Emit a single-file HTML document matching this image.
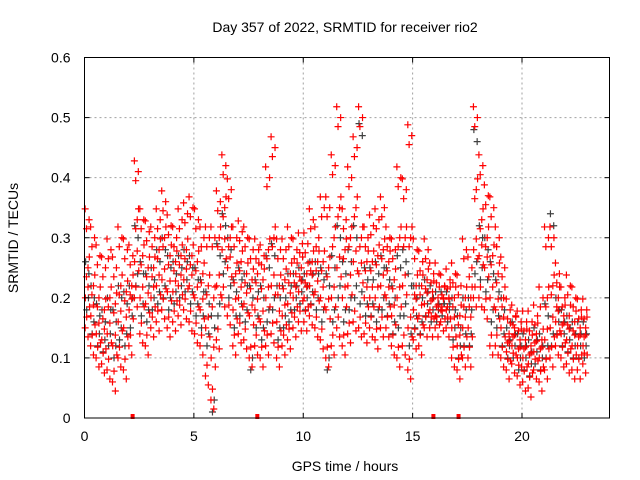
<!DOCTYPE html>
<html><head><meta charset="utf-8"><style>
body{margin:0;background:#fff;}
svg{display:block;font-family:"Liberation Sans",sans-serif;}
</style></head><body>
<svg id="chart" width="640" height="480" viewBox="0 0 640 480">
<rect width="640" height="480" fill="#fff"/>
<text x="345" y="32" font-size="14" text-anchor="middle">Day 357 of 2022, SRMTID for receiver rio2</text>
<g id="grid"></g>
<g id="black"></g>
<g id="red"></g>
<rect x="84.5" y="57.5" width="525" height="360.5" fill="none" stroke="#000" stroke-width="1"/>
<g id="ticks"></g>
<text x="345" y="471" font-size="14" text-anchor="middle">GPS time / hours</text>
<text transform="translate(18,238) rotate(-90)" font-size="14" text-anchor="middle">SRMTID / TECUs</text>
</svg>
<script>
const xTicks=[0,5,10,15,20];
const yTicks=[0,0.1,0.2,0.3,0.4,0.5,0.6];
const yTickLabels=["0","0.1","0.2","0.3","0.4","0.5","0.6"];
const binStart=0, binWidth=0.25;
const redVals=[
[.15,.2,.25,.33],[.12,.17,.22,.3],[.1,.14,.2,.27],[.09,.13,.18,.25],[.08,.14,.2,.28],[.06,.12,.19,.25],[.1,.16,.22,.3],[.08,.15,.21,.28],
[.12,.18,.22,.27],[.2,.26,.33,.41],[.14,.2,.27,.33],[.12,.19,.25,.31],[.15,.2,.25,.3],[.16,.22,.28,.33],[.18,.23,.3,.36],[.15,.21,.27,.32],
[.16,.21,.26,.3],[.17,.22,.27,.33],[.18,.23,.28,.34],[.16,.22,.27,.35],[.14,.2,.26,.33],[.12,.18,.24,.3],[.07,.15,.22,.3],[.03,.1,.2,.3],
[.13,.22,.3,.36],[.2,.28,.35,.42],[.17,.25,.3,.38],[.12,.18,.24,.3],[.14,.2,.26,.31],[.13,.19,.24,.3],[.1,.17,.23,.28],[.12,.18,.24,.28],
[.1,.16,.23,.27],[.12,.2,.28,.4],[.14,.22,.3,.45],[.1,.16,.22,.28],[.12,.17,.23,.28],[.13,.19,.24,.3],[.15,.2,.24,.28],[.16,.21,.25,.29],
[.16,.2,.24,.29],[.17,.22,.26,.33],[.15,.21,.26,.3],[.13,.2,.26,.35],[.1,.18,.25,.35],[.12,.2,.3,.42],[.15,.25,.35,.5],[.12,.2,.28,.33],
[.14,.22,.3,.4],[.16,.26,.35,.45],[.15,.24,.3,.5],[.14,.2,.26,.3],[.15,.2,.26,.32],[.13,.2,.27,.33],[.15,.22,.28,.35],[.15,.2,.26,.3],
[.12,.17,.23,.28],[.1,.2,.3,.4],[.12,.22,.3,.38],[.08,.15,.3,.47],[.13,.18,.22,.28],[.12,.17,.22,.26],[.15,.19,.23,.28],[.15,.18,.21,.24],
[.15,.17,.2,.24],[.16,.18,.2,.22],[.15,.18,.2,.23],[.1,.15,.2,.24],[.08,.12,.17,.22],[.1,.15,.2,.28],[.1,.15,.2,.25],[.2,.28,.38,.5],
[.2,.27,.33,.42],[.18,.25,.3,.37],[.12,.2,.27,.35],[.12,.18,.24,.3],[.1,.15,.2,.25],[.08,.11,.14,.18],[.09,.12,.15,.17],[.07,.1,.13,.16],
[.06,.1,.13,.16],[.05,.09,.12,.16],[.08,.11,.14,.17],[.06,.1,.13,.2],[.08,.13,.2,.3],[.1,.15,.22,.3],[.12,.16,.2,.24],[.1,.14,.17,.2],
[.09,.13,.17,.22],[.08,.12,.16,.2],[.08,.12,.15,.18],[.09,.12,.15,.18]];
const blackVals=[
[.18,.24],[.14,.2],[.12,.17],[.11,.16],[.12,.18],[.1,.16],[.13,.2],[.12,.19],
[.15,.2],[.22,.3],[.17,.24],[.16,.22],[.18,.23],[.19,.26],[.2,.28],[.18,.25],
[.19,.24],[.2,.25],[.21,.26],[.19,.25],[.17,.23],[.15,.21],[.12,.19],[.01,.15],
[.17,.27],[.24,.32],[.2,.28],[.15,.21],[.17,.23],[.16,.22],[.08,.2],[.15,.21],
[.13,.2],[.16,.25],[.18,.27],[.13,.2],[.15,.2],[.16,.22],[.18,.22],[.19,.23],
[.18,.22],[.19,.24],[.18,.24],[.16,.23],[.08,.22],[.16,.25],[.2,.3],[.16,.24],
[.18,.26],[.2,.3],[.19,.47],[.17,.23],[.17,.23],[.16,.24],[.18,.25],[.17,.23],
[.14,.2],[.15,.25],[.17,.26],[.12,.22],[.15,.2],[.14,.2],[.17,.21],[.16,.2],
[.16,.19],[.17,.19],[.16,.19],[.13,.18],[.1,.15],[.12,.18],[.12,.18],[.24,.46],
[.23,.3],[.21,.28],[.16,.24],[.15,.21],[.12,.18],[.1,.13],[.1,.14],[.08,.12],
[.08,.12],[.07,.11],[.09,.13],[.08,.12],[.1,.17],[.12,.32],[.14,.18],[.12,.16],
[.11,.15],[.1,.14],[.1,.14],[.1,.14]];
const zeroMarks=[2.2,7.9,15.95,17.1];
const NS="http://www.w3.org/2000/svg";
const X0=84.5,X1=609.5,Y0=418,Y1=57.5,XMAX=24,YMAX=0.6;
function sx(v){return X0+(X1-X0)*v/XMAX;}
function sy(v){return Y0-(Y0-Y1)*v/YMAX;}
function mk(tag,attrs,parent){const e=document.createElementNS(NS,tag);for(const k in attrs)e.setAttribute(k,attrs[k]);parent.appendChild(e);return e;}
const grid=document.getElementById('grid'),ticks=document.getElementById('ticks');
xTicks.forEach((t,i)=>{
  if(t>0){const l=mk('line',{x1:sx(t),x2:sx(t),y1:Y1,y2:Y0,stroke:'#a0a0a0','stroke-dasharray':'2,3'},grid);
  
  }
  const tx=mk('text',{x:sx(t),y:Y0+23,'font-size':14,'text-anchor':'middle'},ticks);tx.textContent=t;
  
  
  mk('line',{x1:sx(t),x2:sx(t),y1:Y0,y2:Y0-5,stroke:'#000'},ticks);
  mk('line',{x1:sx(t),x2:sx(t),y1:Y1,y2:Y1+5,stroke:'#000'},ticks);
});
yTicks.forEach((t,i)=>{
  if(t>0&&t<YMAX){const l=mk('line',{x1:X0,x2:X1,y1:sy(t),y2:sy(t),stroke:'#a0a0a0','stroke-dasharray':'2,3'},grid);
  
  }
  const tx=mk('text',{x:X0-14,y:sy(t)+5,'font-size':14,'text-anchor':'end'},ticks);tx.textContent=yTickLabels[i];
  
  
  mk('line',{x1:X0,x2:X0+5,y1:sy(t),y2:sy(t),stroke:'#000'},ticks);
  mk('line',{x1:X1,x2:X1-5,y1:sy(t),y2:sy(t),stroke:'#000'},ticks);
});
function plus(g,x,y,c){
  const p=mk('path',{d:`M${x-3.5},${y}H${x+3.5}M${x},${y-3.5}V${y+3.5}`,stroke:c,'stroke-width':1.2,fill:'none'},g);
  
  
}
const offs=[0.03,0.16,0.09,0.21];
const dxs=[0,0.07,0.13];
const dys=[0,0.018,-0.015];
const bg=document.getElementById('black');
blackVals.forEach((vals,i)=>vals.forEach((v,j)=>{
  const t=binStart+binWidth*i;
  plus(bg,sx(t+[0.1,0.2][j]),sy(v),'#404040');
  plus(bg,sx(t+[0.18,0.05][j]),sy(v+0.02),'#404040');
}));
const rg=document.getElementById('red');
redVals.forEach((vals,i)=>vals.forEach((v,j)=>{
  const t=binStart+binWidth*i;
  dxs.forEach((d,k)=>plus(rg,sx(t+((offs[j]+d)%0.25)),sy(v+dys[(k+j)%3]),'#ff0000'));
}));
zeroMarks.forEach(t=>{
  const r=mk('rect',{x:sx(t)-2,y:Y0-4,width:4,height:5,fill:'#ff0000'},rg);
  
  
});
</script>
</body></html>
